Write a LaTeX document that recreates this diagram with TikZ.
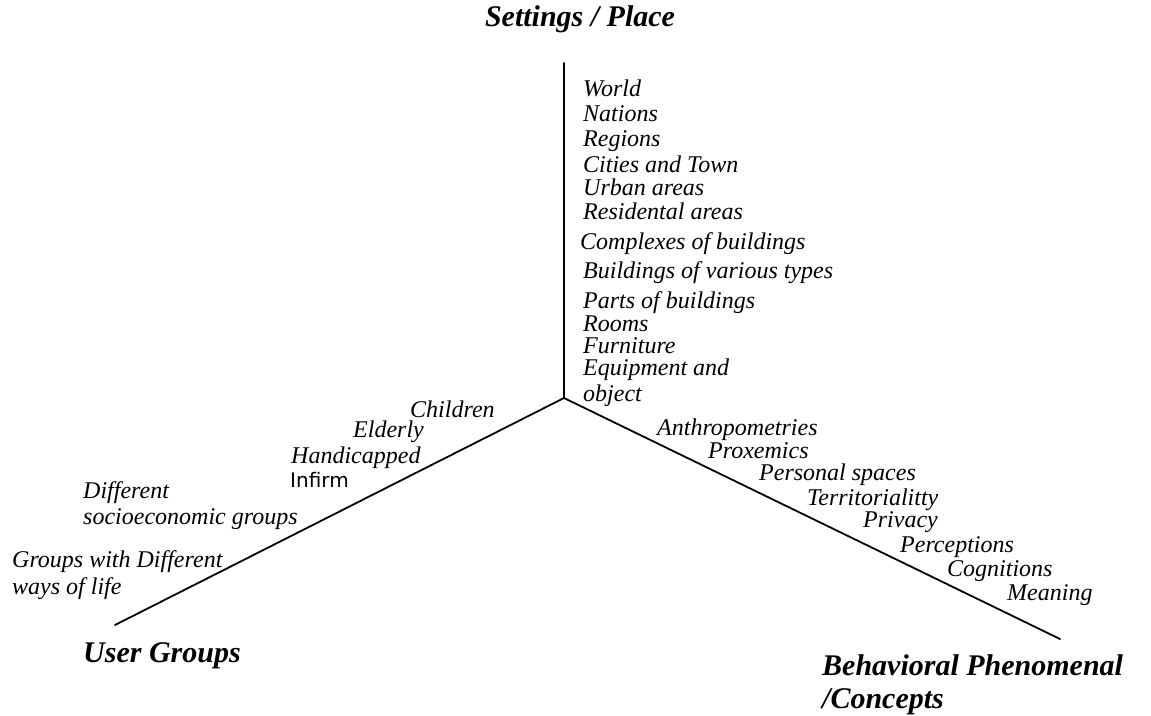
\documentclass[tikz,border=0pt]{standalone}
\usepackage{fontspec}
\setmainfont{Liberation Serif}
\newfontfamily\infirmfont{DejaVu Sans}
\begin{document}
\begin{tikzpicture}[x=1pt,y=-1pt,
  lbl/.style={anchor=base west,inner sep=0pt,font=\fontsize{24}{26}\selectfont\itshape},
  ttl/.style={anchor=base west,inner sep=0pt,font=\fontsize{30}{32}\selectfont\bfseries\itshape},
  axis/.style={line width=1.8pt,line cap=round}]
\useasboundingbox (0,0) rectangle (1151,715);
% axes
\coordinate (O) at (564,398);
\coordinate (T) at (564,63);
\coordinate (L) at (115,625);
\coordinate (R) at (1060,639);
\draw[axis] (T) -- (O) -- (L);
\draw[axis] (O) -- (R);
% titles
\node[ttl,anchor=base] (tset) at (580,26) {Settings / Place};
\node[ttl] (tuser) at (83,662) {User Groups};
\node[ttl] (tbeh1) at (822,675) {Behavioral Phenomenal};
\node[ttl] (tbeh2) at (822,708) {/Concepts};
% settings
\node[lbl] (s1) at (583,96) {World};
\node[lbl] (s2) at (583,121) {Nations};
\node[lbl] (s3) at (583,146) {Regions};
\node[lbl] (s4) at (583,172) {Cities and Town};
\node[lbl] (s5) at (583,195) {Urban areas};
\node[lbl] (s6) at (583,219) {Residental areas};
\node[lbl] (s7) at (580,249) {Complexes of buildings};
\node[lbl] (s8) at (583,278) {Buildings of various types};
\node[lbl] (s9) at (583,308) {Parts of buildings};
\node[lbl] (s10) at (583,331) {Rooms};
\node[lbl] (s11) at (583,353) {Furniture};
\node[lbl] (s12) at (583,375) {Equipment and};
\node[lbl] (s13) at (583,401) {object};
% user groups
\node[lbl] (u1) at (410,417) {Children};
\node[lbl] (u2) at (353,437) {Elderly};
\node[lbl] (u3) at (291,463) {Handicapped};
\node[anchor=base west,inner sep=0pt,font=\fontsize{20}{22}\selectfont\infirmfont] (u4) at (290,487) {Infirm};
\node[lbl] (u5) at (83,498) {Different};
\node[lbl] (u6) at (83,524) {socioeconomic groups};
\node[lbl] (u7) at (12,567) {Groups with Different};
\node[lbl] (u8) at (12,594) {ways of life};
% behavioural
\node[lbl] (b1) at (657,435) {Anthropometries};
\node[lbl] (b2) at (708,458) {Proxemics};
\node[lbl] (b3) at (759,480) {Personal spaces};
\node[lbl] (b4) at (807,505) {Territorialitty};
\node[lbl] (b5) at (863,527) {Privacy};
\node[lbl] (b6) at (900,552) {Perceptions};
\node[lbl] (b7) at (947,576) {Cognitions};
\node[lbl] (b8) at (1007,600) {Meaning};
\end{tikzpicture}
\end{document}
